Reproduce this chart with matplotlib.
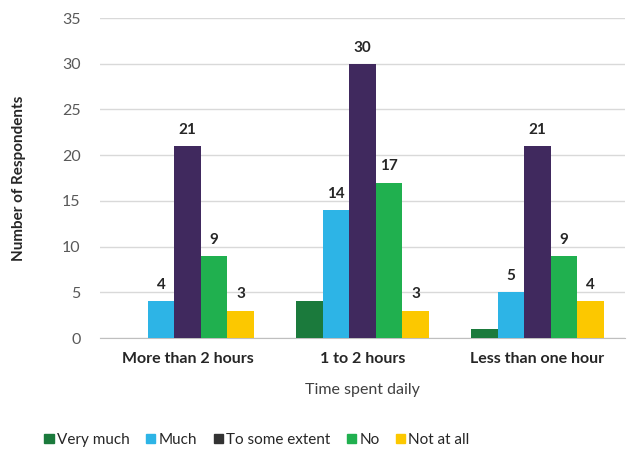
import matplotlib
matplotlib.use("Agg")
import matplotlib.pyplot as plt
import numpy as np

plt.rcParams['font.family'] = ['Lato', 'DejaVu Sans']

categories = ["More than 2 hours", "1 to 2 hours", "Less than one hour"]
series_names = ["Very much", "Much", "To some extent", "No", "Not at all"]
very_much = [0, 4, 1]
much = [4, 14, 5]
some_extent = [21, 30, 21]
no = [9, 17, 9]
not_at_all = [3, 3, 4]
# which series carry value labels
labelled = [False, True, True, True, True]

colors = ["#1b7a3c", "#2db4e6", "#40295e", "#20b04f", "#fcc800"]
legend_colors = ["#1b7a3c", "#2db4e6", "#333333", "#20b04f", "#fcc800"]

values = [very_much, much, some_extent, no, not_at_all]

fig = plt.figure(figsize=(6.3, 4.51), dpi=100)
ax = fig.add_axes([100 / 630, 1 - 338 / 451, 525 / 630, 320 / 451])

x = np.arange(len(categories))
width = 0.152
for i, (name, vals) in enumerate(zip(series_names, values)):
    offs = (i - 2) * width
    bars = ax.bar(x + offs, vals, width, color=colors[i], label=name, zorder=3)
    if labelled[i]:
        for b, v in zip(bars, vals):
            ax.text(b.get_x() + b.get_width() / 2, v + 1.0, str(v),
                    ha="center", va="bottom", fontsize=11,
                    fontweight="bold", color="#262626")

ax.set_ylim(0, 35)
ax.set_xlim(-0.5, 2.5)
ax.set_yticks(range(0, 36, 5))
ax.yaxis.grid(True, color="#d9d9d9", linewidth=1, zorder=0)
ax.set_axisbelow(True)
for s in ["top", "right", "left"]:
    ax.spines[s].set_visible(False)
ax.spines["bottom"].set_color("#bfbfbf")
ax.tick_params(axis="y", length=0, labelsize=11.5, labelcolor="#595959", pad=14)
ax.tick_params(axis="x", length=0, labelsize=11.5, pad=10)
ax.set_xticks(x)
ax.set_xticklabels(categories, fontweight="bold", color="#262626")

ax.set_ylabel("Number of Respondents", fontsize=11, fontweight="bold",
              color="#262626", labelpad=26)
ax.set_xlabel("Time spent daily", fontsize=11.5, color="#404040", labelpad=12)

handles = [plt.Rectangle((0, 0), 1, 1, color=c) for c in legend_colors]
fig.legend(handles, series_names, loc="center", bbox_to_anchor=(257 / 630, 1 - 440 / 451),
           ncol=5, frameon=False, fontsize=11, handlelength=0.6, handleheight=0.6,
           handletextpad=0.2, columnspacing=1.1, labelcolor="#262626")

fig.savefig("out.png", dpi=100)
